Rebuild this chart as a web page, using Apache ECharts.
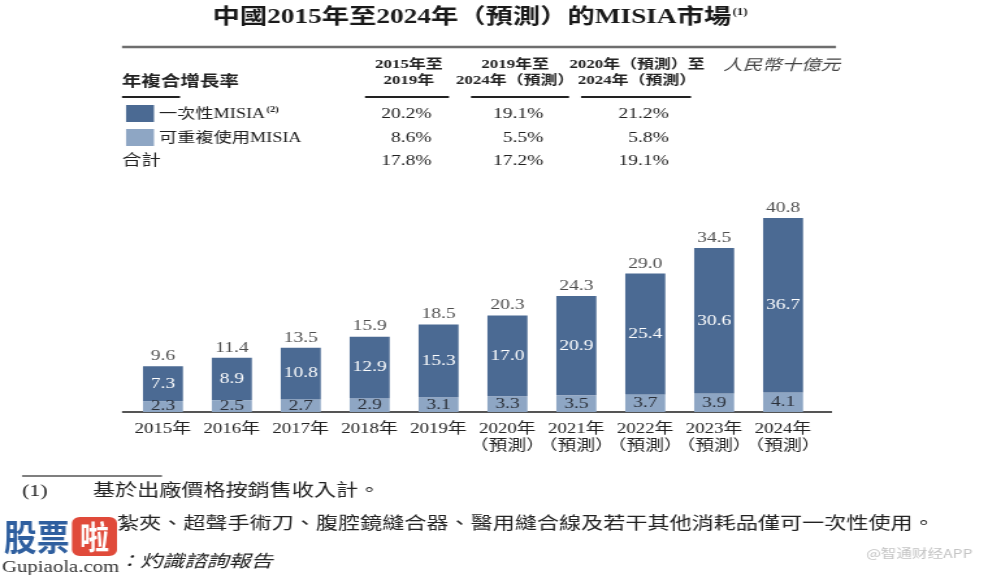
<!DOCTYPE html>
<html><head><meta charset="utf-8">
<script src="https://cdn.jsdelivr.net/npm/echarts@6/dist/echarts.min.js"></script>
<style>
html,body{margin:0;padding:0;background:#fff;overflow:hidden;width:983px;height:575px;}
#c{width:756px;height:575px;transform:scaleX(1.3);transform-origin:0 0;}
</style></head>
<body><div id="c"></div>
<script>
// ---- data ----
const categories = ['2015年','2016年','2017年','2018年','2019年','2020年\n（預測）','2021年\n（預測）','2022年\n（預測）','2023年\n（預測）','2024年\n（預測）'];
const reusable   = [2.3, 2.5, 2.7, 2.9, 3.1, 3.3, 3.5, 3.7, 3.9, 4.1];
const disposable = [7.3, 8.9, 10.8, 12.9, 15.3, 17.0, 20.9, 25.4, 30.6, 36.7];
const totals     = [9.6, 11.4, 13.5, 15.9, 18.5, 20.3, 24.3, 29.0, 34.5, 40.8];
const cagrPeriodsTop    = ['2015年至', '2019年至', '2020年（預測）至'];
const cagrPeriodsBottom = ['2019年', '2024年（預測）', '2024年（預測）'];
const cagrDisposable = ['20.2%', '19.1%', '21.2%'];
const cagrReusable   = ['8.6%', '5.5%', '5.8%'];
const cagrTotal      = ['17.8%', '17.2%', '19.1%'];

// ---- style ----
const S = 1.3;               // horizontal stretch of the whole picture
const X = v => v / S;
const DARK = '#4b6a93', LIGHT = '#8ea6c4';
const SERIF = '"Liberation Serif","Noto Sans CJK TC",serif';
const CJK = '"Liberation Serif","Noto Sans CJK TC",sans-serif';

const chart = echarts.init(document.getElementById('c'), null, {renderer: 'canvas'});

const g = [];
function txt(x, y, text, o) {
  g.push({type: 'text', x: x, y: y, style: Object.assign({
    text: text, fill: '#222', font: '15px ' + CJK, textAlign: 'left', textVerticalAlign: 'middle'
  }, o || {})});
}
function line(x1, x2, y, w, c) {
  g.push({type: 'line', shape: {x1: X(x1), y1: y, x2: X(x2), y2: y}, style: {stroke: c, lineWidth: w}});
}

// title
g.push({type: 'text', x: X(480), y: 18, style: {
  text: '{a|中國2015年至2024年（預測）的MISIA市場}{b|(1)}',
  textAlign: 'center', textVerticalAlign: 'middle',
  rich: {
    a: {fontFamily: SERIF, fontWeight: 'bold', fontSize: 21, fill: '#1a1a1a'},
    b: {fontFamily: SERIF, fontWeight: 'bold', fontSize: 10, fill: '#1a1a1a', verticalAlign: 'top', padding: [0,0,10,1]}
  }
}});
line(122, 836, 47, 2.5, '#6e6e6e');

// table header
txt(X(122), 82, '年複合增長率', {font: 'bold 15px ' + CJK});
const colC = [409, 515, 637];
const colR = [431.5, 543.5, 669];
for (let i = 0; i < 3; i++) {
  txt(X(colC[i]), 65, cagrPeriodsTop[i], {font: 'bold 13px ' + CJK, textAlign: 'center'});
  txt(X(colC[i]), 81, cagrPeriodsBottom[i], {font: 'bold 13px ' + CJK, textAlign: 'center'});
}
txt(X(723), 66, '人民幣十億元', {font: 'italic 15px ' + CJK, fill: '#444'});
line(122, 180, 97, 2, '#222');
line(365, 449, 97, 2, '#222');
line(471, 569, 97, 2, '#222');
line(581, 691, 97, 2, '#222');

// legend rows
g.push({type: 'rect', shape: {x: X(126), y: 105, width: X(28), height: 17}, style: {fill: DARK}});
g.push({type: 'rect', shape: {x: X(126), y: 129, width: X(28), height: 17}, style: {fill: LIGHT}});
g.push({type: 'text', x: X(159), y: 114, style: {
  text: '{a|一次性MISIA}{b|(2)}', textVerticalAlign: 'middle',
  rich: {a: {fontFamily: CJK, fontSize: 14, fill: '#222'},
         b: {fontFamily: SERIF, fontWeight: 'bold', fontSize: 8, fill: '#222', verticalAlign: 'top', padding: [0,0,8,1]}}
}});
txt(X(159), 138, '可重複使用MISIA', {font: '14px ' + CJK});
txt(X(122), 161, '合計', {font: '15px ' + CJK});
for (let i = 0; i < 3; i++) {
  txt(X(colR[i]), 114, cagrDisposable[i], {font: '15px ' + SERIF, textAlign: 'right'});
  txt(X(colR[i]), 138, cagrReusable[i], {font: '15px ' + SERIF, textAlign: 'right'});
  txt(X(colR[i]), 161, cagrTotal[i], {font: '15px ' + SERIF, textAlign: 'right'});
}

// axis base line
line(122, 832, 412, 2, '#555');

// footnotes
line(22, 162, 476, 1.5, '#555');
txt(X(22), 492, '(1)', {font: '17px ' + SERIF});
txt(X(93), 492, '基於出廠價格按銷售收入計。', {font: '17px ' + CJK});
txt(X(117), 525, '紮夾、超聲手術刀、腹腔鏡縫合器、醫用縫合線及若干其他消耗品僅可一次性使用。', {font: '17px ' + CJK});
txt(X(118), 563, '：灼識諮詢報告', {font: 'italic 17px ' + CJK});

// watermark (part of the reference picture)
g.push({type: 'text', x: X(4), y: 537, scaleX: 0.7, style: {text: '股票', font: 'bold 36px "Noto Sans CJK SC"', fill: '#2f5f9f', textVerticalAlign: 'middle'}});
g.push({type: 'rect', shape: {x: X(72), y: 517, width: X(45), height: 39, r: 6}, style: {fill: '#e04a3a'}});
g.push({type: 'text', x: X(94.5), y: 537, scaleX: 0.7, style: {text: '啦', font: 'bold 32px "Noto Sans CJK SC"', fill: '#fff', textAlign: 'center', textVerticalAlign: 'middle'}});
txt(X(2), 568, 'Gupiaola.com', {font: '16px ' + SERIF, fill: '#333'});
txt(X(866), 553, '@智通财经APP', {font: '12px "Noto Sans CJK SC"', fill: '#c4c4c4'});

chart.setOption({
  animation: false,
  backgroundColor: '#fff',
  grid: {left: X(128.5), right: 756 - X(817.5), top: 198, bottom: 163},
  xAxis: {
    type: 'category', data: categories,
    axisLine: {show: false}, axisTick: {show: false},
    axisLabel: {interval: 0, margin: 9, fontFamily: CJK, fontSize: 14.5, color: '#222', lineHeight: 17}
  },
  yAxis: {type: 'value', min: 0, max: 45, show: false, splitLine: {show: false}},
  series: [
    {type: 'bar', stack: 'm', data: reusable, barWidth: X(40),
     itemStyle: {color: LIGHT},
     label: {show: true, position: 'inside', fontFamily: SERIF, fontSize: 15, color: '#2a2f38',
             formatter: p => p.value.toFixed(1)}},
    {type: 'bar', stack: 'm', data: disposable, barWidth: X(40),
     itemStyle: {color: DARK},
     label: {show: true, position: 'inside', fontFamily: SERIF, fontSize: 15, color: '#fff',
             formatter: p => p.value.toFixed(1)}},
    {type: 'scatter', data: totals, symbolSize: 1, itemStyle: {color: 'rgba(0,0,0,0)'}, silent: true,
     label: {show: true, position: 'top', distance: 2, fontFamily: SERIF, fontSize: 15, color: '#222',
             formatter: p => p.value.toFixed(1)}}
  ],
  graphic: g
});
</script>
</body></html>
